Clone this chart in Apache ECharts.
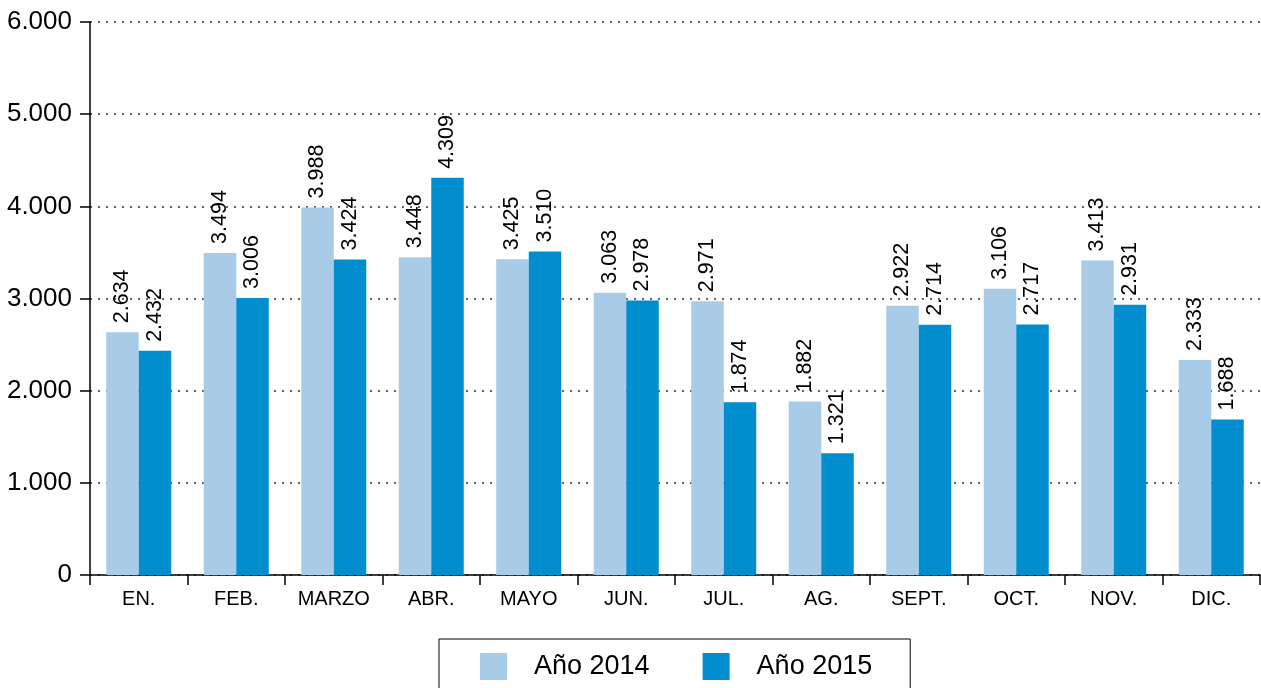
<!DOCTYPE html>
<html>
<head>
<meta charset="utf-8">
<script src="https://cdn.jsdelivr.net/npm/echarts@6/dist/echarts.min.js"></script>
<style>
  html, body { margin: 0; padding: 0; background: #fff; }
  #chart { width: 1261px; height: 688px; }
</style>
</head>
<body>
<div id="chart"></div>
<script>
const months = ['EN.', 'FEB.', 'MARZO', 'ABR.', 'MAYO', 'JUN.', 'JUL.', 'AG.', 'SEPT.', 'OCT.', 'NOV.', 'DIC.'];
const year2014 = [2634, 3494, 3988, 3448, 3425, 3063, 2971, 1882, 2922, 3106, 3413, 2333];
const year2015 = [2432, 3006, 3424, 4309, 3510, 2978, 1874, 1321, 2714, 2717, 2931, 1688];
const seriesNames = ['Año 2014', 'Año 2015'];

const FONT = "'Liberation Sans', Arial, Helvetica, sans-serif";

// 2634 -> "2.634"
function miles(v) {
  return String(v).replace(/\B(?=(\d{3})+(?!\d))/g, '.');
}

const barLabel = {
  show: true,
  position: 'top',
  distance: 9,
  rotate: 90,
  align: 'left',
  verticalAlign: 'middle',
  color: '#000',
  fontFamily: FONT,
  fontSize: 21.5,
  formatter: p => miles(p.value)
};

const myChart = echarts.init(document.getElementById('chart'));
const option = {
  animation: false,
  textStyle: { fontFamily: FONT },
  grid: { left: 90, right: 1, top: 22, bottom: 113 },
  legend: {
    data: seriesNames,
    left: 439,
    top: 639,
    orient: 'horizontal',
    itemWidth: 27,
    itemHeight: 27,
    itemGap: 53,
    padding: [14, 38, 20, 41],
    borderColor: '#000',
    borderWidth: 1,
    borderRadius: 0,
    icon: 'rect',
    textStyle: { color: '#000', fontSize: 27, fontFamily: FONT, padding: [0, 0, 0, 22] }
  },
  xAxis: {
    type: 'category',
    data: months,
    axisLine: { lineStyle: { color: '#000', width: 1.5 } },
    axisTick: { show: true, length: 10, lineStyle: { color: '#000', width: 1.5 } },
    axisLabel: { color: '#000', fontSize: 20, margin: 14, fontFamily: FONT }
  },
  yAxis: {
    type: 'value',
    min: 0,
    max: 6000,
    interval: 1000,
    axisLine: { show: true, lineStyle: { color: '#000', width: 1.5 } },
    axisTick: { show: true, length: 10, lineStyle: { color: '#000', width: 1.5 } },
    axisLabel: { color: '#000', fontSize: 26, margin: 18, fontFamily: FONT, formatter: v => miles(v) },
    splitLine: { show: true, lineStyle: { color: '#333', width: 1.5, type: [2, 6] } }
  },
  series: [
    {
      name: seriesNames[0],
      type: 'bar',
      data: year2014,
      barWidth: 32.5,
      barGap: '0%',
      itemStyle: { color: '#a8cce8' },
      label: barLabel
    },
    {
      name: seriesNames[1],
      type: 'bar',
      data: year2015,
      barWidth: 32.5,
      barGap: '0%',
      itemStyle: { color: '#008ecf' },
      label: barLabel
    }
  ]
};
myChart.setOption(option);
</script>
</body>
</html>
